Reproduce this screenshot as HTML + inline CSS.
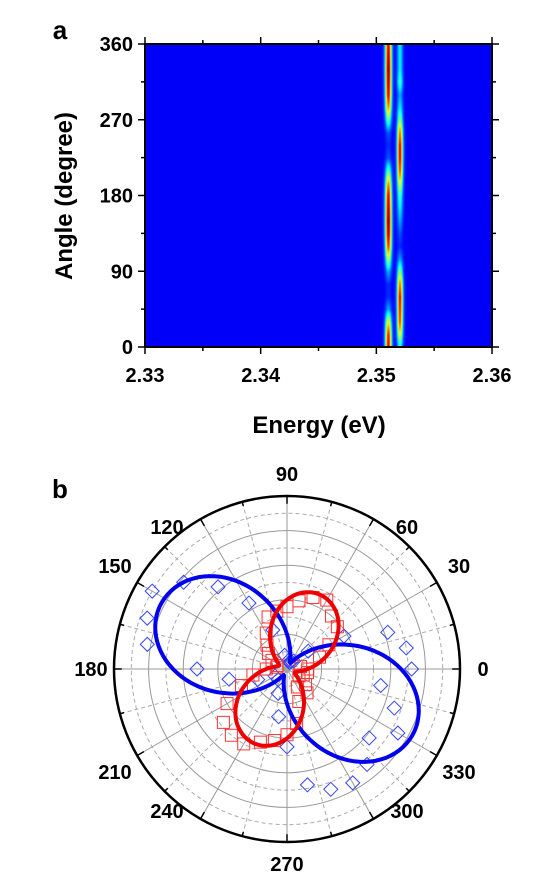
<!DOCTYPE html>
<html><head><meta charset="utf-8"><style>
body{margin:0;background:#fff;width:537px;height:894px;overflow:hidden;font-family:"Liberation Sans",Arial,sans-serif}
svg{position:absolute;left:0;top:0}
</style></head><body>
<canvas id="hm" width="347" height="303" style="position:absolute;left:145px;top:44px"></canvas>
<svg id="s" width="537" height="894"></svg>
<script>
// Heatmap data: peak energies and intensity vs angle
const hmAngles=[0,15,30,45,60,75,90,105,120,135,150,165,180,195,210,225,240,255,270,285,300,315,330,345,360];
const peak1Energy=2.3510, peak2Energy=2.3520;
const peak1Int=[0.9,0.85,0.6,0.2,0.05,0.05,0.2,0.5,0.8,0.95,1.0,0.95,0.9,0.7,0.4,0.1,0.05,0.1,0.4,0.7,0.9,0.95,1.0,0.95,0.9];
const peak2Int=[0.3,0.6,0.85,0.9,0.95,0.8,0.5,0.2,0.05,0.1,0.2,0.3,0.4,0.6,0.85,0.95,0.95,0.8,0.5,0.3,0.2,0.4,0.3,0.3,0.3];
const xTicks=[2.33,2.34,2.35,2.36], yTicks=[0,90,180,270,360];
// Polar data
const blueAngles=[0,10,20,30,40,50,60,70,80,100,110,120,130,140,150,160,170,180,190,200,210,230,250,260,270,280,290,300,310,320,330,340,350];
const blueR=[0.72,0.70,0.62,0.38,0.16,0.06,0.05,0.04,0.05,0.08,0.24,0.44,0.62,0.78,0.9,0.86,0.82,0.52,0.34,0.18,0.08,0.08,0.15,0.28,0.45,0.68,0.74,0.76,0.72,0.62,0.74,0.66,0.55];
const redAngles=[0,10,20,30,40,50,60,70,80,90,100,110,120,130,140,150,160,170,180,190,200,210,220,230,240,250,260,270,280,290,300,310,320,330,340,350];
const redR=[0.12,0.08,0.2,0.28,0.38,0.40,0.46,0.44,0.40,0.36,0.34,0.32,0.24,0.18,0.14,0.10,0.06,0.06,0.12,0.20,0.28,0.40,0.48,0.50,0.50,0.45,0.42,0.38,0.32,0.2,0.12,0.18,0.14,0.08,0.1,0.12];
const blueFit={phase:153,base:0.04,amp:0.78}, redFit={phase:66,base:0.05,amp:0.42};
const polarLabels=[0,30,60,90,120,150,180,210,240,270,300,330];

const NS="http://www.w3.org/2000/svg", S=document.getElementById('s');
function mk(t,a,name,p){const e=document.createElementNS(NS,t);for(const k in a)e.setAttribute(k,a[k]);


(p||S).appendChild(e);return e;}
function txt(x,y,s,size,anchor,name){const e=mk('text',{x:x,y:y,'font-size':size,'font-weight':'bold','text-anchor':anchor||'middle','font-family':'Liberation Sans, Arial, sans-serif'},name);e.textContent=s;return e;}

// heatmap
const L=145,T=44,W=347,H=303;
const xs=e=>L+(e-2.33)/0.03*W, ys=a=>T+H-a/360*H;
function interp(arr,a){const i=Math.min(Math.floor(a/15),23),f=a/15-i;return arr[i]*(1-f)+arr[i+1]*f;}
function jet(v){const r=Math.min(Math.max(Math.min(4*v-1.5,-4*v+4.5),0),1),g=Math.min(Math.max(Math.min(4*v-0.5,-4*v+3.5),0),1),b=Math.min(Math.max(Math.min(4*v+0.5,-4*v+2.5),0),1);return [r*255,g*255,b*255];}
const cv=document.getElementById('hm').getContext('2d'),img=cv.createImageData(W,H);
const p1=xs(peak1Energy)-L,p2=xs(peak2Energy)-L;
for(let y=0;y<H;y++){const a=(H-y)/H*360,i1=interp(peak1Int,a),i2=interp(peak2Int,a);
for(let x=0;x<W;x++){let v=0.12+i1*0.88*Math.exp(-((x-p1)**2)/(2*2.2*2.2))+i2*0.82*Math.exp(-((x-p2)**2)/(2*2.0*2.0));
v=Math.min(v,1);const c=jet(v),k=(y*W+x)*4;img.data[k]=c[0];img.data[k+1]=c[1];img.data[k+2]=c[2];img.data[k+3]=255;}}
cv.putImageData(img,0,0);
mk('rect',{x:L,y:T,width:W,height:H,fill:'none',stroke:'#000','stroke-width':2},'plot-frame');
xTicks.forEach((t,i)=>{const x=xs(t);mk('line',{x1:x,y1:T+H,x2:x,y2:T+H+7,stroke:'#000','stroke-width':1.5},'x-tick');
mk('line',{x1:x,y1:T,x2:x,y2:T-7,stroke:'#000','stroke-width':1.5},'x-tick-top');
txt(x,T+H+35,t.toFixed(2),20,'middle','x-tick-label');
if(i<3){const m=xs(t+0.005);mk('line',{x1:m,y1:T+H,x2:m,y2:T+H+4,stroke:'#000','stroke-width':1.5},'x-minor-tick');mk('line',{x1:m,y1:T,x2:m,y2:T-4,stroke:'#000','stroke-width':1.5},'x-minor-tick-top');}});
yTicks.forEach((t,i)=>{const y=ys(t);mk('line',{x1:L,y1:y,x2:L-7,y2:y,stroke:'#000','stroke-width':1.5},'y-tick');
mk('line',{x1:L+W,y1:y,x2:L+W+7,y2:y,stroke:'#000','stroke-width':1.5},'y-tick-right');
txt(L-12,y+7,String(t),20,'end','y-tick-label');
if(i<4){const m=ys(t+45);mk('line',{x1:L,y1:m,x2:L-4,y2:m,stroke:'#000','stroke-width':1.5},'y-minor-tick');mk('line',{x1:L+W,y1:m,x2:L+W+4,y2:m,stroke:'#000','stroke-width':1.5},'y-minor-tick-right');}});
txt(319,433,'Energy (eV)',24,'middle','x-axis-title');
const yt=txt(0,0,'Angle (degree)',24,'middle','y-axis-title');yt.setAttribute('transform','translate(72,196) rotate(-90)');
txt(60,39,'a',26,'middle','panel-label-a');
txt(60,498,'b',26,'middle','panel-label-b');

// polar
const CX=287,CY=669,R=173;
const px=(a,r)=>CX+r*R*Math.cos(a*Math.PI/180), py=(a,r)=>CY-r*R*Math.sin(a*Math.PI/180);
for(let k=1;k<10;k++)mk('circle',{cx:CX,cy:CY,r:k*R/10,fill:'none',stroke:k%2?'#aaa':'#999','stroke-width':1,'stroke-dasharray':k%2?'4,3':'none'},'grid-ring');
for(let a=0;a<360;a+=15){const solid=a%30===0;mk('line',{x1:CX,y1:CY,x2:px(a,1),y2:py(a,1),stroke:solid?'#999':'#aaa','stroke-width':1,'stroke-dasharray':solid?'none':'4,3'},'grid-spoke');
mk('line',{x1:px(a,1),y1:py(a,1),x2:px(a,solid?0.955:0.975),y2:py(a,solid?0.955:0.975),stroke:'#000','stroke-width':1.5},'angle-tick');}
mk('circle',{cx:CX,cy:CY,r:R,fill:'none',stroke:'#000','stroke-width':2.5},'polar-frame');
// label placement: box-like offsets (horizontal dx, vertical dy) per angle
polarLabels.forEach(a=>{const c=Math.cos(a*Math.PI/180),s=Math.sin(a*Math.PI/180);
const dx=Math.sign(c)*(Math.abs(c)>0.99?196:Math.abs(c)>0.8?172:Math.abs(c)>0.1?120:0);
const dy=-Math.sign(s)*(Math.abs(s)>0.99?195:Math.abs(s)>0.8?142:Math.abs(s)>0.1?103:0);
txt(CX+dx,CY+dy+7,String(a),20,'middle','angle-label');});
function fitPath(f){let d='';for(let a=0;a<=360;a+=2){const r=f.base+f.amp*Math.cos((a-f.phase)*Math.PI/180)**2;d+=(a?'L':'M')+px(a,r).toFixed(1)+','+py(a,r).toFixed(1);}return d+'Z';}
blueAngles.forEach((a,i)=>{const x=px(a,blueR[i]),y=py(a,blueR[i]);
mk('polygon',{points:`${x},${y-7} ${x+7},${y} ${x},${y+7} ${x-7},${y}`,fill:'none',stroke:'#3344ff','stroke-width':1},'blue-diamond-point');});
redAngles.forEach((a,i)=>{const x=px(a,redR[i]),y=py(a,redR[i]);
mk('rect',{x:x-6,y:y-6,width:12,height:12,fill:'none',stroke:'#ff3333','stroke-width':1},'red-square-point');});
mk('path',{d:fitPath(blueFit),fill:'none',stroke:'#0000ee','stroke-width':4},'blue-fit-curve');
mk('path',{d:fitPath(redFit),fill:'none',stroke:'#ee0000','stroke-width':4},'red-fit-curve');
</script></body></html>
